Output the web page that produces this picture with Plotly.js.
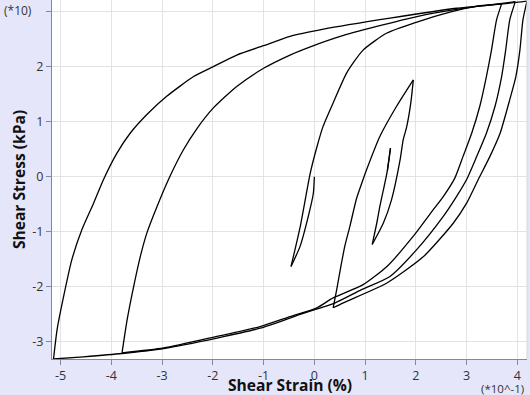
<!DOCTYPE html>
<html>
<head>
<meta charset="utf-8">
<script src="https://cdn.plot.ly/plotly-3.0.1.min.js"></script>
<style>html,body{margin:0;padding:0;background:#E6E6FA;}#chart{width:530px;height:395px;}</style>
</head>
<body>
<div id="chart"></div>
<script>
// Shear strain (x 10^-1 %) and shear stress (x 10 kPa), one array pair per branch, in load order
const strain0 = [0, -0.02, -0.12, -0.28, -0.46];
const stress0 = [0, -0.30, -0.72, -1.26, -1.63];

const strain1 = [-0.46, -0.28, -0.08, 0.05, 0.17, 0.37, 0.64, 0.96, 1.43, 2.02, 2.67, 3.20, 3.69];
const stress1 = [-1.63, -0.91, 0.07, 0.54, 0.91, 1.34, 1.89, 2.30, 2.61, 2.81, 2.99, 3.10, 3.14];

const strain2 = [3.69, 3.59, 3.49, 3.39, 3.26, 3.10, 2.93, 2.77, 2.54, 2.34, 1.95, 1.43, 0.96, 0.37, 0.05, -0.48, -1.07, -1.92, -2.97, -3.79];
const stress2 = [3.14, 2.85, 2.30, 1.82, 1.28, 0.79, 0.37, -0.02, -0.36, -0.60, -1.08, -1.63, -1.96, -2.20, -2.38, -2.54, -2.72, -2.90, -3.11, -3.20];

const strain3 = [-3.79, -3.69, -3.56, -3.43, -3.30, -3.10, -2.87, -2.58, -2.31, -1.99, -1.53, -1.00, -0.48, -0.08, 0.51, 1.23, 2.02, 2.80, 3.46, 3.96];
const stress3 = [-3.20, -2.60, -1.99, -1.45, -1.02, -0.54, -0.04, 0.49, 0.88, 1.25, 1.64, 1.97, 2.21, 2.36, 2.55, 2.73, 2.91, 3.04, 3.12, 3.18];

const strain4 = [3.96, 3.85, 3.77, 3.69, 3.56, 3.39, 3.20, 3.00, 2.80, 2.54, 2.02, 1.49, 0.93, 0.41, -0.28, -1.07, -1.92, -2.97, -3.79, -4.55, -5.14];
const stress4 = [3.18, 2.85, 2.30, 1.82, 1.28, 0.79, 0.37, -0.05, -0.36, -0.72, -1.32, -1.81, -2.05, -2.29, -2.50, -2.75, -2.93, -3.12, -3.21, -3.27, -3.31];

const strain5 = [-5.14, -5.07, -4.94, -4.78, -4.58, -4.35, -4.15, -3.89, -3.63, -3.30, -2.91, -2.38, -1.99, -1.53, -1.00, -0.48, 0.18, 1.49, 2.80, 3.72, 4.19];
const stress5 = [-3.31, -2.78, -2.17, -1.51, -0.96, -0.48, -0.04, 0.43, 0.79, 1.13, 1.46, 1.82, 2.00, 2.21, 2.38, 2.55, 2.68, 2.88, 3.06, 3.14, 3.19];

const strain6 = [4.19, 4.11, 4.05, 3.97, 3.85, 3.66, 3.46, 3.23, 3.00, 2.74, 2.15, 1.43, 0.57, 0.37];
const stress6 = [3.19, 2.85, 2.30, 1.82, 1.40, 0.79, 0.37, -0.05, -0.48, -0.84, -1.45, -1.93, -2.29, -2.38];

const strain7 = [0.37, 0.44, 0.51, 0.60, 0.70, 0.83, 0.96, 1.03, 1.29, 1.62, 1.95];
const stress7 = [-2.38, -2.05, -1.69, -1.26, -0.90, -0.40, -0.05, 0.13, 0.73, 1.28, 1.76];

const strain8 = [1.95, 1.90, 1.82, 1.75, 1.69, 1.52, 1.36, 1.14];
const stress8 = [1.76, 1.34, 0.91, 0.67, 0.31, -0.42, -0.84, -1.23];

const strain9 = [1.14, 1.23, 1.29, 1.36, 1.43, 1.50];
const stress9 = [-1.23, -0.84, -0.54, -0.24, 0.07, 0.52];

const strain10 = [1.50, 1.44];
const stress10 = [0.52, 0.11];

const xTicks = [-5, -4, -3, -2, -1, 0, 1, 2, 3, 4];
const yTicks = [-3, -2, -1, 0, 1, 2, 3];
const yTickText = ['-3', '-2', '-1', '0', '1', '2', ''];

const branches = [
  [strain0, stress0], [strain1, stress1], [strain2, stress2], [strain3, stress3],
  [strain4, stress4], [strain5, stress5], [strain6, stress6], [strain7, stress7],
  [strain8, stress8], [strain9, stress9], [strain10, stress10]
];

const traces = branches.map(b => ({
  x: b[0], y: b[1], type: 'scatter', mode: 'lines',
  line: {color: '#000000', width: 1.3, shape: 'spline', smoothing: 0.6},
  hoverinfo: 'skip', showlegend: false
}));

const axisCol = '#8585a5';
const tickFont = {family: 'Open Sans, sans-serif', size: 12.5, color: '#333333'};
const titleFont = {family: 'Open Sans, sans-serif', size: 15.6, color: '#111111'};

Plotly.newPlot('chart', traces, {
  width: 530, height: 395,
  paper_bgcolor: '#E6E6FA', plot_bgcolor: '#FFFFFF',
  margin: {l: 52, r: 3, t: 0, b: 36},
  font: {family: 'Open Sans, sans-serif'},
  xaxis: {
    range: [-5.17, 4.19], tickvals: xTicks, ticktext: xTicks.map(String),
    showgrid: true, gridcolor: '#e3e3e3', zeroline: false,
    showline: true, linecolor: axisCol, linewidth: 1,
    ticks: 'outside', ticklen: 5, tickcolor: axisCol, tickfont: tickFont,
    automargin: false
  },
  yaxis: {
    range: [-3.31, 3.21], tickvals: yTicks, ticktext: yTickText,
    showgrid: true, gridcolor: '#e3e3e3', zeroline: false,
    showline: true, linecolor: axisCol, linewidth: 1,
    ticks: 'outside', ticklen: 5, tickcolor: axisCol, tickfont: tickFont,
    title: {text: '<b>Shear Stress (kPa)</b>', font: titleFont, standoff: 2},
    automargin: false
  },
  shapes: [{type: 'line', xref: 'paper', yref: 'paper', x0: 1, x1: 1, y0: 0, y1: 1, line: {color: '#d8d8d8', width: 1}}],
  annotations: [
    {text: '<b>Shear Strain (%)</b>', xref: 'paper', yref: 'paper', x: 0.5, y: -0.0725, xanchor: 'center', yanchor: 'middle', showarrow: false, font: titleFont},
    {text: '(*10)', xref: 'paper', yref: 'paper', x: -0.105, y: 1.0, xanchor: 'left', yanchor: 'top', showarrow: false, font: {family: 'Open Sans, sans-serif', size: 12, color: '#333333'}},
    {text: '(*10^-1)', xref: 'paper', yref: 'paper', x: 0.998, y: -0.081, xanchor: 'right', yanchor: 'middle', showarrow: false, font: {family: 'Open Sans, sans-serif', size: 11.5, color: '#333333'}}
  ]
}, {staticPlot: true, displayModeBar: false});
</script>
</body>
</html>
